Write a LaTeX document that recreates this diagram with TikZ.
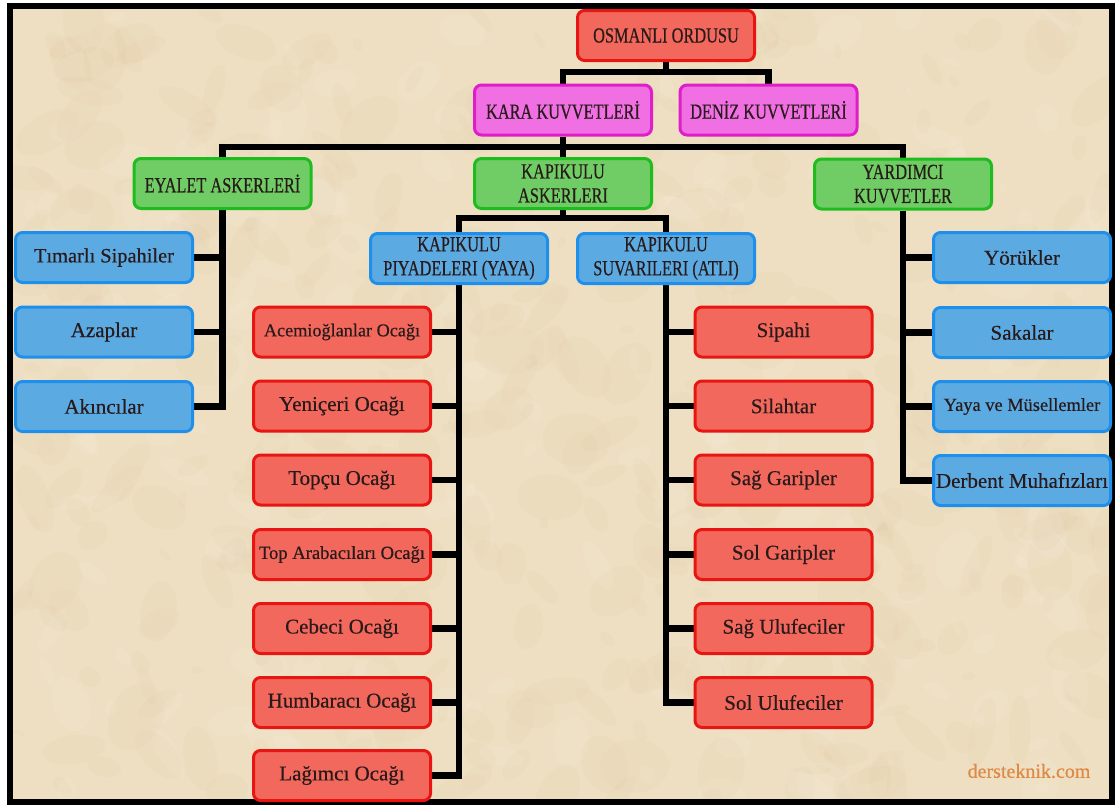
\documentclass[tikz,border=0pt]{standalone}
\usepackage{fontspec}
\setmainfont{Liberation Serif}[FakeBold=0.4]
\newfontfamily\normf[FakeBold=0.4]{Liberation Serif}
\newfontfamily\capsf[FakeStretch=0.76,FakeBold=0.4]{Liberation Serif}
\usetikzlibrary{backgrounds}
\definecolor{bgc}{RGB}{238,223,194}
\definecolor{bgdark}{RGB}{200,172,130}
\definecolor{txt}{RGB}{40,26,26}
\definecolor{redf}{RGB}{243,104,92}
\definecolor{redd}{RGB}{232,22,18}
\definecolor{bluef}{RGB}{92,170,226}
\definecolor{blued}{RGB}{30,144,236}
\definecolor{greenf}{RGB}{112,204,100}
\definecolor{greend}{RGB}{30,188,30}
\definecolor{pinkf}{RGB}{240,112,228}
\definecolor{pinkd}{RGB}{222,30,200}
\definecolor{wmc}{RGB}{222,138,70}
\tikzset{
  box/.style={rounded corners=7pt, line width=3pt, minimum width=177pt,
    minimum height=50pt, inner sep=1pt, text=txt, align=center,
    font=\normf\fontsize{21}{24}\selectfont},
  capsbox/.style={box, font=\capsf\fontsize{21.5}{24}\selectfont},
  redb/.style={box, draw=redd, fill=redf},
  blueb/.style={box, draw=blued, fill=bluef},
  redcap/.style={capsbox, draw=redd, fill=redf},
  pinkcap/.style={capsbox, draw=pinkd, fill=pinkf},
  greencap/.style={capsbox, draw=greend, fill=greenf},
  bluecap/.style={capsbox, draw=blued, fill=bluef},
  conn/.style={line width=6.5pt, black, line join=miter},
}
\begin{document}
\begin{tikzpicture}[x=1pt,y=-1pt]
\useasboundingbox (0,0) rectangle (1117,804);
\begin{pgfonlayer}{background}
\fill[white] (0,0) rectangle (1117,804);
\fill[bgc] (10,5) rectangle (1112,802);
\begin{scope}
\clip (13,9) rectangle (1109,799);
\pgfmathsetseed{12}
\foreach \i in {1,...,400} {
  \pgfmathsetmacro\xx{13+rnd*1096}
  \pgfmathsetmacro\yy{9+rnd*790}
  \pgfmathsetmacro\rr{6+rnd*30}
  \pgfmathsetmacro\ry{(0.3+0.5*rnd)*\rr}
  \pgfmathsetmacro\rot{rnd*180}
  \fill[bgdark, opacity=0.05, rotate around={\rot:(\xx,\yy)}] (\xx,\yy) ellipse [x radius=\rr pt, y radius=\ry pt];
}
\foreach \i in {1,...,200} {
  \pgfmathsetmacro\xx{13+rnd*1096}
  \pgfmathsetmacro\yy{9+rnd*790}
  \pgfmathsetmacro\rr{6+rnd*25}
  \pgfmathsetmacro\ry{(0.3+0.5*rnd)*\rr}
  \pgfmathsetmacro\rot{rnd*180}
  \fill[white, opacity=0.07, rotate around={\rot:(\xx,\yy)}] (\xx,\yy) ellipse [x radius=\rr pt, y radius=\ry pt];
}
\end{scope}
\draw[black, line width=6pt] (10,5.5) rectangle (1111.5,802);
\end{pgfonlayer}

% top levels
\node[redcap] (osm) at (666,35.5) {OSMANLI ORDUSU};
\node[pinkcap] (kara) at (563,110) {KARA KUVVETLERİ};
\node[pinkcap] (deniz) at (768.5,110) {DENİZ KUVVETLERİ};
\node[greencap] (eyalet) at (222.5,183.5) {EYALET ASKERLERİ};
\node[greencap] (kapi) at (563,183.5) {KAPIKULU\\ASKERLERI};
\node[greencap] (yard) at (903,184) {YARDIMCI\\KUVVETLER};
\node[bluecap] (piy) at (459,258.5) {KAPIKULU\\PIYADELERI (YAYA)};
\node[bluecap] (suv) at (666,258.5) {KAPIKULU\\SUVARILERI (ATLI)};

% eyalet
\node[blueb, font=\normf\fontsize{20.4}{24}\selectfont] (b1) at (104,257.5) {Tımarlı Sipahiler};
\node[blueb] (b2) at (104,332) {Azaplar};
\node[blueb] (b3) at (104,406.5) {Akıncılar};

% yardimci
\node[blueb] (y1) at (1022,257.5) {Yörükler};
\node[blueb] (y2) at (1022,332.5) {Sakalar};
\node[blueb, font=\normf\fontsize{18.4}{22}\selectfont] (y3) at (1022,406.5) {Yaya ve Müsellemler};
\node[blueb] (y4) at (1022,480.5) {Derbent Muhafızları};

% piyade
\node[redb, font=\normf\fontsize{18.2}{22}\selectfont] (r1) at (342,332) {Acemioğlanlar Ocağı};
\node[redb] (r2) at (342,406) {Yeniçeri Ocağı};
\node[redb] (r3) at (342,480) {Topçu Ocağı};
\node[redb, font=\normf\fontsize{18.6}{22}\selectfont] (r4) at (342,554.5) {Top Arabacıları Ocağı};
\node[redb] (r5) at (342,628.5) {Cebeci Ocağı};
\node[redb] (r6) at (342,702.5) {Humbaracı Ocağı};
\node[redb] (r7) at (342,775.5) {Lağımcı Ocağı};

% suvari
\node[redb] (s1) at (783.5,332) {Sipahi};
\node[redb] (s2) at (783.5,406) {Silahtar};
\node[redb] (s3) at (783.5,480) {Sağ Garipler};
\node[redb] (s4) at (783.5,554.5) {Sol Garipler};
\node[redb] (s5) at (783.5,628.5) {Sağ Ulufeciler};
\node[redb] (s6) at (783.5,702.5) {Sol Ulufeciler};

\node[text=wmc, font=\fontsize{20}{20}\selectfont, inner sep=0pt] (wm) at (1029,771) {dersteknik.com};

\begin{pgfonlayer}{background}
\coordinate (bus1) at (666,72);
\coordinate (bus2) at (563,147);
\coordinate (bus3) at (563,218);
\draw[conn] (osm.south) -- (osm.south |- bus1);
\draw[conn] (kara.north) |- (deniz.north |- bus1) -- (deniz.north);
\draw[conn] (kara.south) -- (kara.south |- bus2);
\draw[conn] (eyalet.north) |- (yard.north |- bus2) -- (yard.north);
\draw[conn] (kapi.north) -- (kapi.north |- bus2);
\draw[conn] (kapi.south) -- (kapi.south |- bus3);
\draw[conn] (piy.north) |- (suv.north |- bus3) -- (suv.north);
\draw[conn] (eyalet.south) |- (b3.east);
\foreach \n in {b1,b2} \draw[conn] (\n.east) -- (\n.east -| eyalet.south);
\draw[conn] (yard.south) |- (y4.west);
\foreach \n in {y1,y2,y3} \draw[conn] (\n.west) -- (\n.west -| yard.south);
\draw[conn] (piy.south) |- (r7.east);
\foreach \n in {r1,r2,r3,r4,r5,r6} \draw[conn] (\n.east) -- (\n.east -| piy.south);
\draw[conn] (suv.south) |- (s6.west);
\foreach \n in {s1,s2,s3,s4,s5} \draw[conn] (\n.west) -- (\n.west -| suv.south);
\end{pgfonlayer}
\end{tikzpicture}
\end{document}
